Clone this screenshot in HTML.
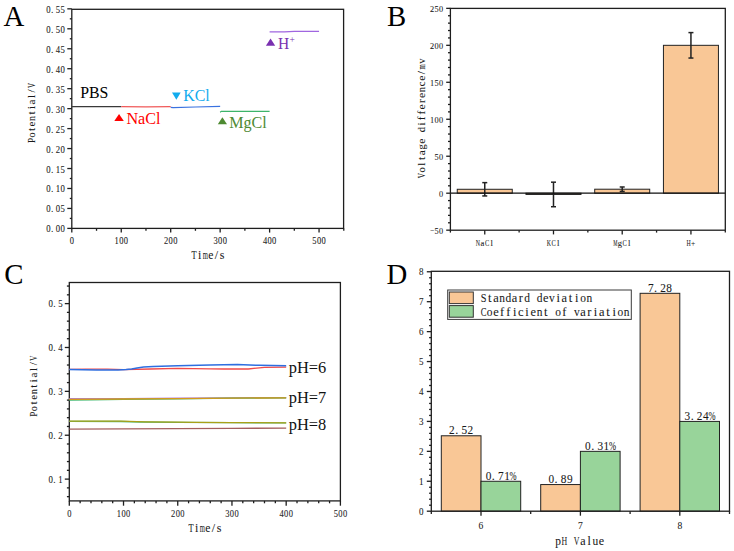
<!DOCTYPE html>
<html><head><meta charset="utf-8"><style>
html,body{margin:0;padding:0;background:#fff;width:734px;height:551px;overflow:hidden}
svg{display:block}
text{font-family:"Liberation Serif",serif}
.m{stroke-width:0.28px}
</style></head><body>
<svg width="734" height="551" viewBox="0 0 734 551">
<rect width="734" height="551" fill="#fff"/>
<text x="3.60" y="25.80" font-size="28.80" fill="#000" font-family="Liberation Serif" text-anchor="start" >A</text>
<line x1="67.30" y1="228.40" x2="71.80" y2="228.40" stroke="#1e1e1e" stroke-width="1.30"/>
<text x="52.08" y="232.40" font-size="9.60" text-anchor="middle" fill="#1a1a1a" stroke="#1a1a1a" stroke-width="0.08" font-family="Liberation Serif" >.</text>
<text transform="translate(48.38,232.40) scale(0.910,1)" font-size="9.60" text-anchor="middle" fill="#1a1a1a" stroke="#1a1a1a" stroke-width="0.08" font-family="Liberation Serif">0</text>
<text transform="translate(57.88,232.40) scale(0.910,1)" font-size="9.60" text-anchor="middle" fill="#1a1a1a" stroke="#1a1a1a" stroke-width="0.08" font-family="Liberation Serif">0</text>
<text transform="translate(62.62,232.40) scale(0.910,1)" font-size="9.60" text-anchor="middle" fill="#1a1a1a" stroke="#1a1a1a" stroke-width="0.08" font-family="Liberation Serif">0</text>
<line x1="67.30" y1="208.44" x2="71.80" y2="208.44" stroke="#1e1e1e" stroke-width="1.30"/>
<text x="52.08" y="212.44" font-size="9.60" text-anchor="middle" fill="#1a1a1a" stroke="#1a1a1a" stroke-width="0.08" font-family="Liberation Serif" >.</text>
<text transform="translate(48.38,212.44) scale(0.910,1)" font-size="9.60" text-anchor="middle" fill="#1a1a1a" stroke="#1a1a1a" stroke-width="0.08" font-family="Liberation Serif">0</text>
<text transform="translate(57.88,212.44) scale(0.910,1)" font-size="9.60" text-anchor="middle" fill="#1a1a1a" stroke="#1a1a1a" stroke-width="0.08" font-family="Liberation Serif">0</text>
<text transform="translate(62.62,212.44) scale(0.910,1)" font-size="9.60" text-anchor="middle" fill="#1a1a1a" stroke="#1a1a1a" stroke-width="0.08" font-family="Liberation Serif">5</text>
<line x1="67.30" y1="188.48" x2="71.80" y2="188.48" stroke="#1e1e1e" stroke-width="1.30"/>
<text x="52.08" y="192.48" font-size="9.60" text-anchor="middle" fill="#1a1a1a" stroke="#1a1a1a" stroke-width="0.08" font-family="Liberation Serif" >.</text>
<text transform="translate(48.38,192.48) scale(0.910,1)" font-size="9.60" text-anchor="middle" fill="#1a1a1a" stroke="#1a1a1a" stroke-width="0.08" font-family="Liberation Serif">0</text>
<text transform="translate(57.88,192.48) scale(0.910,1)" font-size="9.60" text-anchor="middle" fill="#1a1a1a" stroke="#1a1a1a" stroke-width="0.08" font-family="Liberation Serif">1</text>
<text transform="translate(62.62,192.48) scale(0.910,1)" font-size="9.60" text-anchor="middle" fill="#1a1a1a" stroke="#1a1a1a" stroke-width="0.08" font-family="Liberation Serif">0</text>
<line x1="67.30" y1="168.52" x2="71.80" y2="168.52" stroke="#1e1e1e" stroke-width="1.30"/>
<text x="52.08" y="172.52" font-size="9.60" text-anchor="middle" fill="#1a1a1a" stroke="#1a1a1a" stroke-width="0.08" font-family="Liberation Serif" >.</text>
<text transform="translate(48.38,172.52) scale(0.910,1)" font-size="9.60" text-anchor="middle" fill="#1a1a1a" stroke="#1a1a1a" stroke-width="0.08" font-family="Liberation Serif">0</text>
<text transform="translate(57.88,172.52) scale(0.910,1)" font-size="9.60" text-anchor="middle" fill="#1a1a1a" stroke="#1a1a1a" stroke-width="0.08" font-family="Liberation Serif">1</text>
<text transform="translate(62.62,172.52) scale(0.910,1)" font-size="9.60" text-anchor="middle" fill="#1a1a1a" stroke="#1a1a1a" stroke-width="0.08" font-family="Liberation Serif">5</text>
<line x1="67.30" y1="148.56" x2="71.80" y2="148.56" stroke="#1e1e1e" stroke-width="1.30"/>
<text x="52.08" y="152.56" font-size="9.60" text-anchor="middle" fill="#1a1a1a" stroke="#1a1a1a" stroke-width="0.08" font-family="Liberation Serif" >.</text>
<text transform="translate(48.38,152.56) scale(0.910,1)" font-size="9.60" text-anchor="middle" fill="#1a1a1a" stroke="#1a1a1a" stroke-width="0.08" font-family="Liberation Serif">0</text>
<text transform="translate(57.88,152.56) scale(0.910,1)" font-size="9.60" text-anchor="middle" fill="#1a1a1a" stroke="#1a1a1a" stroke-width="0.08" font-family="Liberation Serif">2</text>
<text transform="translate(62.62,152.56) scale(0.910,1)" font-size="9.60" text-anchor="middle" fill="#1a1a1a" stroke="#1a1a1a" stroke-width="0.08" font-family="Liberation Serif">0</text>
<line x1="67.30" y1="128.60" x2="71.80" y2="128.60" stroke="#1e1e1e" stroke-width="1.30"/>
<text x="52.08" y="132.60" font-size="9.60" text-anchor="middle" fill="#1a1a1a" stroke="#1a1a1a" stroke-width="0.08" font-family="Liberation Serif" >.</text>
<text transform="translate(48.38,132.60) scale(0.910,1)" font-size="9.60" text-anchor="middle" fill="#1a1a1a" stroke="#1a1a1a" stroke-width="0.08" font-family="Liberation Serif">0</text>
<text transform="translate(57.88,132.60) scale(0.910,1)" font-size="9.60" text-anchor="middle" fill="#1a1a1a" stroke="#1a1a1a" stroke-width="0.08" font-family="Liberation Serif">2</text>
<text transform="translate(62.62,132.60) scale(0.910,1)" font-size="9.60" text-anchor="middle" fill="#1a1a1a" stroke="#1a1a1a" stroke-width="0.08" font-family="Liberation Serif">5</text>
<line x1="67.30" y1="108.64" x2="71.80" y2="108.64" stroke="#1e1e1e" stroke-width="1.30"/>
<text x="52.08" y="112.64" font-size="9.60" text-anchor="middle" fill="#1a1a1a" stroke="#1a1a1a" stroke-width="0.08" font-family="Liberation Serif" >.</text>
<text transform="translate(48.38,112.64) scale(0.910,1)" font-size="9.60" text-anchor="middle" fill="#1a1a1a" stroke="#1a1a1a" stroke-width="0.08" font-family="Liberation Serif">0</text>
<text transform="translate(57.88,112.64) scale(0.910,1)" font-size="9.60" text-anchor="middle" fill="#1a1a1a" stroke="#1a1a1a" stroke-width="0.08" font-family="Liberation Serif">3</text>
<text transform="translate(62.62,112.64) scale(0.910,1)" font-size="9.60" text-anchor="middle" fill="#1a1a1a" stroke="#1a1a1a" stroke-width="0.08" font-family="Liberation Serif">0</text>
<line x1="67.30" y1="88.68" x2="71.80" y2="88.68" stroke="#1e1e1e" stroke-width="1.30"/>
<text x="52.08" y="92.68" font-size="9.60" text-anchor="middle" fill="#1a1a1a" stroke="#1a1a1a" stroke-width="0.08" font-family="Liberation Serif" >.</text>
<text transform="translate(48.38,92.68) scale(0.910,1)" font-size="9.60" text-anchor="middle" fill="#1a1a1a" stroke="#1a1a1a" stroke-width="0.08" font-family="Liberation Serif">0</text>
<text transform="translate(57.88,92.68) scale(0.910,1)" font-size="9.60" text-anchor="middle" fill="#1a1a1a" stroke="#1a1a1a" stroke-width="0.08" font-family="Liberation Serif">3</text>
<text transform="translate(62.62,92.68) scale(0.910,1)" font-size="9.60" text-anchor="middle" fill="#1a1a1a" stroke="#1a1a1a" stroke-width="0.08" font-family="Liberation Serif">5</text>
<line x1="67.30" y1="68.72" x2="71.80" y2="68.72" stroke="#1e1e1e" stroke-width="1.30"/>
<text x="52.08" y="72.72" font-size="9.60" text-anchor="middle" fill="#1a1a1a" stroke="#1a1a1a" stroke-width="0.08" font-family="Liberation Serif" >.</text>
<text transform="translate(48.38,72.72) scale(0.910,1)" font-size="9.60" text-anchor="middle" fill="#1a1a1a" stroke="#1a1a1a" stroke-width="0.08" font-family="Liberation Serif">0</text>
<text transform="translate(57.88,72.72) scale(0.910,1)" font-size="9.60" text-anchor="middle" fill="#1a1a1a" stroke="#1a1a1a" stroke-width="0.08" font-family="Liberation Serif">4</text>
<text transform="translate(62.62,72.72) scale(0.910,1)" font-size="9.60" text-anchor="middle" fill="#1a1a1a" stroke="#1a1a1a" stroke-width="0.08" font-family="Liberation Serif">0</text>
<line x1="67.30" y1="48.76" x2="71.80" y2="48.76" stroke="#1e1e1e" stroke-width="1.30"/>
<text x="52.08" y="52.76" font-size="9.60" text-anchor="middle" fill="#1a1a1a" stroke="#1a1a1a" stroke-width="0.08" font-family="Liberation Serif" >.</text>
<text transform="translate(48.38,52.76) scale(0.910,1)" font-size="9.60" text-anchor="middle" fill="#1a1a1a" stroke="#1a1a1a" stroke-width="0.08" font-family="Liberation Serif">0</text>
<text transform="translate(57.88,52.76) scale(0.910,1)" font-size="9.60" text-anchor="middle" fill="#1a1a1a" stroke="#1a1a1a" stroke-width="0.08" font-family="Liberation Serif">4</text>
<text transform="translate(62.62,52.76) scale(0.910,1)" font-size="9.60" text-anchor="middle" fill="#1a1a1a" stroke="#1a1a1a" stroke-width="0.08" font-family="Liberation Serif">5</text>
<line x1="67.30" y1="28.80" x2="71.80" y2="28.80" stroke="#1e1e1e" stroke-width="1.30"/>
<text x="52.08" y="32.80" font-size="9.60" text-anchor="middle" fill="#1a1a1a" stroke="#1a1a1a" stroke-width="0.08" font-family="Liberation Serif" >.</text>
<text transform="translate(48.38,32.80) scale(0.910,1)" font-size="9.60" text-anchor="middle" fill="#1a1a1a" stroke="#1a1a1a" stroke-width="0.08" font-family="Liberation Serif">0</text>
<text transform="translate(57.88,32.80) scale(0.910,1)" font-size="9.60" text-anchor="middle" fill="#1a1a1a" stroke="#1a1a1a" stroke-width="0.08" font-family="Liberation Serif">5</text>
<text transform="translate(62.62,32.80) scale(0.910,1)" font-size="9.60" text-anchor="middle" fill="#1a1a1a" stroke="#1a1a1a" stroke-width="0.08" font-family="Liberation Serif">0</text>
<line x1="67.30" y1="8.84" x2="71.80" y2="8.84" stroke="#1e1e1e" stroke-width="1.30"/>
<text x="52.08" y="12.84" font-size="9.60" text-anchor="middle" fill="#1a1a1a" stroke="#1a1a1a" stroke-width="0.08" font-family="Liberation Serif" >.</text>
<text transform="translate(48.38,12.84) scale(0.910,1)" font-size="9.60" text-anchor="middle" fill="#1a1a1a" stroke="#1a1a1a" stroke-width="0.08" font-family="Liberation Serif">0</text>
<text transform="translate(57.88,12.84) scale(0.910,1)" font-size="9.60" text-anchor="middle" fill="#1a1a1a" stroke="#1a1a1a" stroke-width="0.08" font-family="Liberation Serif">5</text>
<text transform="translate(62.62,12.84) scale(0.910,1)" font-size="9.60" text-anchor="middle" fill="#1a1a1a" stroke="#1a1a1a" stroke-width="0.08" font-family="Liberation Serif">5</text>
<line x1="69.80" y1="218.42" x2="71.80" y2="218.42" stroke="#1e1e1e" stroke-width="1.30"/>
<line x1="69.80" y1="198.46" x2="71.80" y2="198.46" stroke="#1e1e1e" stroke-width="1.30"/>
<line x1="69.80" y1="178.50" x2="71.80" y2="178.50" stroke="#1e1e1e" stroke-width="1.30"/>
<line x1="69.80" y1="158.54" x2="71.80" y2="158.54" stroke="#1e1e1e" stroke-width="1.30"/>
<line x1="69.80" y1="138.58" x2="71.80" y2="138.58" stroke="#1e1e1e" stroke-width="1.30"/>
<line x1="69.80" y1="118.62" x2="71.80" y2="118.62" stroke="#1e1e1e" stroke-width="1.30"/>
<line x1="69.80" y1="98.66" x2="71.80" y2="98.66" stroke="#1e1e1e" stroke-width="1.30"/>
<line x1="69.80" y1="78.70" x2="71.80" y2="78.70" stroke="#1e1e1e" stroke-width="1.30"/>
<line x1="69.80" y1="58.74" x2="71.80" y2="58.74" stroke="#1e1e1e" stroke-width="1.30"/>
<line x1="69.80" y1="38.78" x2="71.80" y2="38.78" stroke="#1e1e1e" stroke-width="1.30"/>
<line x1="69.80" y1="18.82" x2="71.80" y2="18.82" stroke="#1e1e1e" stroke-width="1.30"/>
<line x1="71.80" y1="228.40" x2="71.80" y2="232.60" stroke="#1e1e1e" stroke-width="1.30"/>
<text transform="translate(71.80,244.00) scale(0.882,1)" font-size="9.60" text-anchor="middle" fill="#1a1a1a" stroke="#1a1a1a" stroke-width="0.08" font-family="Liberation Serif">0</text>
<line x1="121.25" y1="228.40" x2="121.25" y2="232.60" stroke="#1e1e1e" stroke-width="1.30"/>
<text transform="translate(116.65,244.00) scale(0.882,1)" font-size="9.60" text-anchor="middle" fill="#1a1a1a" stroke="#1a1a1a" stroke-width="0.08" font-family="Liberation Serif">1</text>
<text transform="translate(121.25,244.00) scale(0.882,1)" font-size="9.60" text-anchor="middle" fill="#1a1a1a" stroke="#1a1a1a" stroke-width="0.08" font-family="Liberation Serif">0</text>
<text transform="translate(125.85,244.00) scale(0.882,1)" font-size="9.60" text-anchor="middle" fill="#1a1a1a" stroke="#1a1a1a" stroke-width="0.08" font-family="Liberation Serif">0</text>
<line x1="170.70" y1="228.40" x2="170.70" y2="232.60" stroke="#1e1e1e" stroke-width="1.30"/>
<text transform="translate(166.10,244.00) scale(0.882,1)" font-size="9.60" text-anchor="middle" fill="#1a1a1a" stroke="#1a1a1a" stroke-width="0.08" font-family="Liberation Serif">2</text>
<text transform="translate(170.70,244.00) scale(0.882,1)" font-size="9.60" text-anchor="middle" fill="#1a1a1a" stroke="#1a1a1a" stroke-width="0.08" font-family="Liberation Serif">0</text>
<text transform="translate(175.30,244.00) scale(0.882,1)" font-size="9.60" text-anchor="middle" fill="#1a1a1a" stroke="#1a1a1a" stroke-width="0.08" font-family="Liberation Serif">0</text>
<line x1="220.15" y1="228.40" x2="220.15" y2="232.60" stroke="#1e1e1e" stroke-width="1.30"/>
<text transform="translate(215.55,244.00) scale(0.882,1)" font-size="9.60" text-anchor="middle" fill="#1a1a1a" stroke="#1a1a1a" stroke-width="0.08" font-family="Liberation Serif">3</text>
<text transform="translate(220.15,244.00) scale(0.882,1)" font-size="9.60" text-anchor="middle" fill="#1a1a1a" stroke="#1a1a1a" stroke-width="0.08" font-family="Liberation Serif">0</text>
<text transform="translate(224.75,244.00) scale(0.882,1)" font-size="9.60" text-anchor="middle" fill="#1a1a1a" stroke="#1a1a1a" stroke-width="0.08" font-family="Liberation Serif">0</text>
<line x1="269.60" y1="228.40" x2="269.60" y2="232.60" stroke="#1e1e1e" stroke-width="1.30"/>
<text transform="translate(265.00,244.00) scale(0.882,1)" font-size="9.60" text-anchor="middle" fill="#1a1a1a" stroke="#1a1a1a" stroke-width="0.08" font-family="Liberation Serif">4</text>
<text transform="translate(269.60,244.00) scale(0.882,1)" font-size="9.60" text-anchor="middle" fill="#1a1a1a" stroke="#1a1a1a" stroke-width="0.08" font-family="Liberation Serif">0</text>
<text transform="translate(274.20,244.00) scale(0.882,1)" font-size="9.60" text-anchor="middle" fill="#1a1a1a" stroke="#1a1a1a" stroke-width="0.08" font-family="Liberation Serif">0</text>
<line x1="319.05" y1="228.40" x2="319.05" y2="232.60" stroke="#1e1e1e" stroke-width="1.30"/>
<text transform="translate(314.45,244.00) scale(0.882,1)" font-size="9.60" text-anchor="middle" fill="#1a1a1a" stroke="#1a1a1a" stroke-width="0.08" font-family="Liberation Serif">5</text>
<text transform="translate(319.05,244.00) scale(0.882,1)" font-size="9.60" text-anchor="middle" fill="#1a1a1a" stroke="#1a1a1a" stroke-width="0.08" font-family="Liberation Serif">0</text>
<text transform="translate(323.65,244.00) scale(0.882,1)" font-size="9.60" text-anchor="middle" fill="#1a1a1a" stroke="#1a1a1a" stroke-width="0.08" font-family="Liberation Serif">0</text>
<line x1="96.53" y1="228.40" x2="96.53" y2="230.80" stroke="#1e1e1e" stroke-width="1.30"/>
<line x1="145.97" y1="228.40" x2="145.97" y2="230.80" stroke="#1e1e1e" stroke-width="1.30"/>
<line x1="195.43" y1="228.40" x2="195.43" y2="230.80" stroke="#1e1e1e" stroke-width="1.30"/>
<line x1="244.88" y1="228.40" x2="244.88" y2="230.80" stroke="#1e1e1e" stroke-width="1.30"/>
<line x1="294.32" y1="228.40" x2="294.32" y2="230.80" stroke="#1e1e1e" stroke-width="1.30"/>
<line x1="343.78" y1="228.40" x2="343.78" y2="230.80" stroke="#1e1e1e" stroke-width="1.30"/>
<rect x="71.80" y="9.30" width="271.80" height="219.10" fill="none" stroke="#1e1e1e" stroke-width="1.30"/>
<g transform="translate(34.60,113.00) rotate(-90)">
<text x="-16.50 -11.00 0.00 5.50 11.00 16.50 22.00" y="0.00" font-size="11.00" text-anchor="middle" fill="#1a1a1a" stroke="#1a1a1a" stroke-width="0.08" font-family="Liberation Serif" >tetial/</text>
<text transform="translate(-27.50,0.00) scale(0.827,1)" font-size="11.00" text-anchor="middle" fill="#1a1a1a" stroke="#1a1a1a" stroke-width="0.08" font-family="Liberation Serif">P</text>
<text transform="translate(-22.00,0.00) scale(0.920,1)" font-size="11.00" text-anchor="middle" fill="#1a1a1a" stroke="#1a1a1a" stroke-width="0.08" font-family="Liberation Serif">o</text>
<text transform="translate(-5.50,0.00) scale(0.920,1)" font-size="11.00" text-anchor="middle" fill="#1a1a1a" stroke="#1a1a1a" stroke-width="0.08" font-family="Liberation Serif">n</text>
<text transform="translate(27.50,0.00) scale(0.637,1)" font-size="11.00" text-anchor="middle" fill="#1a1a1a" stroke="#1a1a1a" stroke-width="0.08" font-family="Liberation Serif">V</text>
</g>
<text x="199.63 216.49 222.11" y="258.80" font-size="12.00" text-anchor="middle" fill="#1a1a1a" stroke="#1a1a1a" stroke-width="0.08" font-family="Liberation Serif" >i/s</text>
<text transform="translate(194.01,258.80) scale(0.705,1)" font-size="12.00" text-anchor="middle" fill="#1a1a1a" stroke="#1a1a1a" stroke-width="0.08" font-family="Liberation Serif">T</text>
<text transform="translate(205.25,258.80) scale(0.554,1)" font-size="12.00" text-anchor="middle" fill="#1a1a1a" stroke="#1a1a1a" stroke-width="0.08" font-family="Liberation Serif">m</text>
<text transform="translate(210.87,258.80) scale(0.971,1)" font-size="12.00" text-anchor="middle" fill="#1a1a1a" stroke="#1a1a1a" stroke-width="0.08" font-family="Liberation Serif">e</text>
<polyline points="71.80,106.60 121.25,106.70" fill="none" stroke="#3a3a3a" stroke-width="1.20" stroke-linejoin="round"/>
<polyline points="121.25,106.60 145.97,106.90 170.70,106.70" fill="none" stroke="#f05a5a" stroke-width="1.20" stroke-linejoin="round"/>
<polyline points="170.70,107.30 173.17,107.70 195.43,107.00 220.15,106.30" fill="none" stroke="#3a72e0" stroke-width="1.20" stroke-linejoin="round"/>
<polyline points="220.15,112.30 221.14,111.30 269.60,111.30" fill="none" stroke="#3cb46a" stroke-width="1.20" stroke-linejoin="round"/>
<polyline points="269.60,31.90 284.44,31.90 294.32,31.40 319.05,31.30" fill="none" stroke="#a066e0" stroke-width="1.20" stroke-linejoin="round"/>
<text x="80.20" y="98.20" font-size="16.40" fill="#000" font-family="Liberation Serif" text-anchor="start" textLength="28.2" lengthAdjust="spacingAndGlyphs">PBS</text>
<polygon points="119.05,114.00 123.80,120.90 114.30,120.90" fill="#ff0000"/>
<text x="126.40" y="124.40" font-size="16.40" fill="#ff0000" font-family="Liberation Serif" text-anchor="start" textLength="34.2" lengthAdjust="spacingAndGlyphs">NaCl</text>
<polygon points="172.00,92.50 180.70,92.50 176.35,99.80" fill="#12acee"/>
<text x="183.20" y="100.50" font-size="16.40" fill="#12acee" font-family="Liberation Serif" text-anchor="start" textLength="26.6" lengthAdjust="spacingAndGlyphs">KCl</text>
<polygon points="222.40,117.20 227.00,124.30 217.80,124.30" fill="#4e8a32"/>
<text x="229.20" y="127.50" font-size="16.40" fill="#4e8a32" font-family="Liberation Serif" text-anchor="start" textLength="37.6" lengthAdjust="spacingAndGlyphs">MgCl</text>
<polygon points="270.55,38.40 275.20,45.70 265.90,45.70" fill="#7a30b0"/>
<text x="278.00" y="48.50" font-size="16.40" fill="#7a30b0" font-family="Liberation Serif" text-anchor="start" textLength="11.2" lengthAdjust="spacingAndGlyphs">H</text>
<text x="289.60" y="43.40" font-size="9.50" fill="#7a30b0" font-family="Liberation Serif" text-anchor="start" >+</text>
<text x="386.90" y="25.90" font-size="28.80" fill="#000" font-family="Liberation Serif" text-anchor="start" >B</text>
<line x1="446.20" y1="230.17" x2="450.40" y2="230.17" stroke="#1e1e1e" stroke-width="1.30"/>
<text transform="translate(431.95,234.27) scale(0.798,1)" font-size="9.20" text-anchor="middle" fill="#1a1a1a" stroke="#1a1a1a" stroke-width="0.08" font-family="Liberation Serif">−</text>
<text transform="translate(436.45,234.27) scale(0.900,1)" font-size="9.20" text-anchor="middle" fill="#1a1a1a" stroke="#1a1a1a" stroke-width="0.08" font-family="Liberation Serif">5</text>
<text transform="translate(440.95,234.27) scale(0.900,1)" font-size="9.20" text-anchor="middle" fill="#1a1a1a" stroke="#1a1a1a" stroke-width="0.08" font-family="Liberation Serif">0</text>
<line x1="448.00" y1="222.78" x2="450.40" y2="222.78" stroke="#1e1e1e" stroke-width="1.30"/>
<line x1="448.00" y1="215.38" x2="450.40" y2="215.38" stroke="#1e1e1e" stroke-width="1.30"/>
<line x1="448.00" y1="207.99" x2="450.40" y2="207.99" stroke="#1e1e1e" stroke-width="1.30"/>
<line x1="448.00" y1="200.59" x2="450.40" y2="200.59" stroke="#1e1e1e" stroke-width="1.30"/>
<line x1="446.20" y1="193.20" x2="450.40" y2="193.20" stroke="#1e1e1e" stroke-width="1.30"/>
<text transform="translate(440.95,197.30) scale(0.900,1)" font-size="9.20" text-anchor="middle" fill="#1a1a1a" stroke="#1a1a1a" stroke-width="0.08" font-family="Liberation Serif">0</text>
<line x1="448.00" y1="185.81" x2="450.40" y2="185.81" stroke="#1e1e1e" stroke-width="1.30"/>
<line x1="448.00" y1="178.41" x2="450.40" y2="178.41" stroke="#1e1e1e" stroke-width="1.30"/>
<line x1="448.00" y1="171.02" x2="450.40" y2="171.02" stroke="#1e1e1e" stroke-width="1.30"/>
<line x1="448.00" y1="163.62" x2="450.40" y2="163.62" stroke="#1e1e1e" stroke-width="1.30"/>
<line x1="446.20" y1="156.23" x2="450.40" y2="156.23" stroke="#1e1e1e" stroke-width="1.30"/>
<text transform="translate(436.45,160.33) scale(0.900,1)" font-size="9.20" text-anchor="middle" fill="#1a1a1a" stroke="#1a1a1a" stroke-width="0.08" font-family="Liberation Serif">5</text>
<text transform="translate(440.95,160.33) scale(0.900,1)" font-size="9.20" text-anchor="middle" fill="#1a1a1a" stroke="#1a1a1a" stroke-width="0.08" font-family="Liberation Serif">0</text>
<line x1="448.00" y1="148.84" x2="450.40" y2="148.84" stroke="#1e1e1e" stroke-width="1.30"/>
<line x1="448.00" y1="141.44" x2="450.40" y2="141.44" stroke="#1e1e1e" stroke-width="1.30"/>
<line x1="448.00" y1="134.05" x2="450.40" y2="134.05" stroke="#1e1e1e" stroke-width="1.30"/>
<line x1="448.00" y1="126.65" x2="450.40" y2="126.65" stroke="#1e1e1e" stroke-width="1.30"/>
<line x1="446.20" y1="119.26" x2="450.40" y2="119.26" stroke="#1e1e1e" stroke-width="1.30"/>
<text transform="translate(431.95,123.36) scale(0.900,1)" font-size="9.20" text-anchor="middle" fill="#1a1a1a" stroke="#1a1a1a" stroke-width="0.08" font-family="Liberation Serif">1</text>
<text transform="translate(436.45,123.36) scale(0.900,1)" font-size="9.20" text-anchor="middle" fill="#1a1a1a" stroke="#1a1a1a" stroke-width="0.08" font-family="Liberation Serif">0</text>
<text transform="translate(440.95,123.36) scale(0.900,1)" font-size="9.20" text-anchor="middle" fill="#1a1a1a" stroke="#1a1a1a" stroke-width="0.08" font-family="Liberation Serif">0</text>
<line x1="448.00" y1="111.87" x2="450.40" y2="111.87" stroke="#1e1e1e" stroke-width="1.30"/>
<line x1="448.00" y1="104.47" x2="450.40" y2="104.47" stroke="#1e1e1e" stroke-width="1.30"/>
<line x1="448.00" y1="97.08" x2="450.40" y2="97.08" stroke="#1e1e1e" stroke-width="1.30"/>
<line x1="448.00" y1="89.68" x2="450.40" y2="89.68" stroke="#1e1e1e" stroke-width="1.30"/>
<line x1="446.20" y1="82.29" x2="450.40" y2="82.29" stroke="#1e1e1e" stroke-width="1.30"/>
<text transform="translate(431.95,86.39) scale(0.900,1)" font-size="9.20" text-anchor="middle" fill="#1a1a1a" stroke="#1a1a1a" stroke-width="0.08" font-family="Liberation Serif">1</text>
<text transform="translate(436.45,86.39) scale(0.900,1)" font-size="9.20" text-anchor="middle" fill="#1a1a1a" stroke="#1a1a1a" stroke-width="0.08" font-family="Liberation Serif">5</text>
<text transform="translate(440.95,86.39) scale(0.900,1)" font-size="9.20" text-anchor="middle" fill="#1a1a1a" stroke="#1a1a1a" stroke-width="0.08" font-family="Liberation Serif">0</text>
<line x1="448.00" y1="74.90" x2="450.40" y2="74.90" stroke="#1e1e1e" stroke-width="1.30"/>
<line x1="448.00" y1="67.50" x2="450.40" y2="67.50" stroke="#1e1e1e" stroke-width="1.30"/>
<line x1="448.00" y1="60.11" x2="450.40" y2="60.11" stroke="#1e1e1e" stroke-width="1.30"/>
<line x1="448.00" y1="52.71" x2="450.40" y2="52.71" stroke="#1e1e1e" stroke-width="1.30"/>
<line x1="446.20" y1="45.32" x2="450.40" y2="45.32" stroke="#1e1e1e" stroke-width="1.30"/>
<text transform="translate(431.95,49.42) scale(0.900,1)" font-size="9.20" text-anchor="middle" fill="#1a1a1a" stroke="#1a1a1a" stroke-width="0.08" font-family="Liberation Serif">2</text>
<text transform="translate(436.45,49.42) scale(0.900,1)" font-size="9.20" text-anchor="middle" fill="#1a1a1a" stroke="#1a1a1a" stroke-width="0.08" font-family="Liberation Serif">0</text>
<text transform="translate(440.95,49.42) scale(0.900,1)" font-size="9.20" text-anchor="middle" fill="#1a1a1a" stroke="#1a1a1a" stroke-width="0.08" font-family="Liberation Serif">0</text>
<line x1="448.00" y1="37.93" x2="450.40" y2="37.93" stroke="#1e1e1e" stroke-width="1.30"/>
<line x1="448.00" y1="30.53" x2="450.40" y2="30.53" stroke="#1e1e1e" stroke-width="1.30"/>
<line x1="448.00" y1="23.14" x2="450.40" y2="23.14" stroke="#1e1e1e" stroke-width="1.30"/>
<line x1="448.00" y1="15.74" x2="450.40" y2="15.74" stroke="#1e1e1e" stroke-width="1.30"/>
<line x1="446.20" y1="8.35" x2="450.40" y2="8.35" stroke="#1e1e1e" stroke-width="1.30"/>
<text transform="translate(431.95,12.45) scale(0.900,1)" font-size="9.20" text-anchor="middle" fill="#1a1a1a" stroke="#1a1a1a" stroke-width="0.08" font-family="Liberation Serif">2</text>
<text transform="translate(436.45,12.45) scale(0.900,1)" font-size="9.20" text-anchor="middle" fill="#1a1a1a" stroke="#1a1a1a" stroke-width="0.08" font-family="Liberation Serif">5</text>
<text transform="translate(440.95,12.45) scale(0.900,1)" font-size="9.20" text-anchor="middle" fill="#1a1a1a" stroke="#1a1a1a" stroke-width="0.08" font-family="Liberation Serif">0</text>
<line x1="484.76" y1="230.20" x2="484.76" y2="234.40" stroke="#1e1e1e" stroke-width="1.30"/>
<line x1="519.12" y1="230.20" x2="519.12" y2="232.60" stroke="#1e1e1e" stroke-width="1.30"/>
<line x1="450.40" y1="230.20" x2="450.40" y2="232.60" stroke="#1e1e1e" stroke-width="1.30"/>
<text x="482.46 491.66" y="246.00" font-size="8.60" text-anchor="middle" fill="#1a1a1a" stroke="#1a1a1a" stroke-width="0.08" font-family="Liberation Serif" >al</text>
<text transform="translate(477.86,246.00) scale(0.681,1)" font-size="8.60" text-anchor="middle" fill="#1a1a1a" stroke="#1a1a1a" stroke-width="0.08" font-family="Liberation Serif">N</text>
<text transform="translate(487.06,246.00) scale(0.738,1)" font-size="8.60" text-anchor="middle" fill="#1a1a1a" stroke="#1a1a1a" stroke-width="0.08" font-family="Liberation Serif">C</text>
<rect x="457.26" y="189.28" width="55.00" height="3.92" fill="#f9c796" stroke="#222" stroke-width="1.00"/>
<line x1="553.49" y1="230.20" x2="553.49" y2="234.40" stroke="#1e1e1e" stroke-width="1.30"/>
<line x1="587.85" y1="230.20" x2="587.85" y2="232.60" stroke="#1e1e1e" stroke-width="1.30"/>
<text x="558.09" y="246.00" font-size="8.60" text-anchor="middle" fill="#1a1a1a" stroke="#1a1a1a" stroke-width="0.08" font-family="Liberation Serif" >l</text>
<text transform="translate(548.89,246.00) scale(0.681,1)" font-size="8.60" text-anchor="middle" fill="#1a1a1a" stroke="#1a1a1a" stroke-width="0.08" font-family="Liberation Serif">K</text>
<text transform="translate(553.49,246.00) scale(0.738,1)" font-size="8.60" text-anchor="middle" fill="#1a1a1a" stroke="#1a1a1a" stroke-width="0.08" font-family="Liberation Serif">C</text>
<rect x="525.99" y="193.20" width="55.00" height="1.26" fill="#f9c796" stroke="#222" stroke-width="1.00"/>
<line x1="622.21" y1="230.20" x2="622.21" y2="234.40" stroke="#1e1e1e" stroke-width="1.30"/>
<line x1="656.57" y1="230.20" x2="656.57" y2="232.60" stroke="#1e1e1e" stroke-width="1.30"/>
<text x="629.11" y="246.00" font-size="8.60" text-anchor="middle" fill="#1a1a1a" stroke="#1a1a1a" stroke-width="0.08" font-family="Liberation Serif" >l</text>
<text transform="translate(615.31,246.00) scale(0.553,1)" font-size="8.60" text-anchor="middle" fill="#1a1a1a" stroke="#1a1a1a" stroke-width="0.08" font-family="Liberation Serif">M</text>
<text transform="translate(619.91,246.00) scale(0.984,1)" font-size="8.60" text-anchor="middle" fill="#1a1a1a" stroke="#1a1a1a" stroke-width="0.08" font-family="Liberation Serif">g</text>
<text transform="translate(624.51,246.00) scale(0.738,1)" font-size="8.60" text-anchor="middle" fill="#1a1a1a" stroke="#1a1a1a" stroke-width="0.08" font-family="Liberation Serif">C</text>
<rect x="594.71" y="189.21" width="55.00" height="3.99" fill="#f9c796" stroke="#222" stroke-width="1.00"/>
<line x1="690.94" y1="230.20" x2="690.94" y2="234.40" stroke="#1e1e1e" stroke-width="1.30"/>
<line x1="725.30" y1="230.20" x2="725.30" y2="232.60" stroke="#1e1e1e" stroke-width="1.30"/>
<text transform="translate(688.64,246.00) scale(0.681,1)" font-size="8.60" text-anchor="middle" fill="#1a1a1a" stroke="#1a1a1a" stroke-width="0.08" font-family="Liberation Serif">H</text>
<text transform="translate(693.24,246.00) scale(0.873,1)" font-size="8.60" text-anchor="middle" fill="#1a1a1a" stroke="#1a1a1a" stroke-width="0.08" font-family="Liberation Serif">+</text>
<rect x="663.44" y="45.32" width="55.00" height="147.88" fill="#f9c796" stroke="#222" stroke-width="1.00"/>
<line x1="484.76" y1="182.63" x2="484.76" y2="195.94" stroke="#222" stroke-width="1.50"/>
<line x1="482.26" y1="182.63" x2="487.26" y2="182.63" stroke="#222" stroke-width="1.50"/>
<line x1="482.26" y1="195.94" x2="487.26" y2="195.94" stroke="#222" stroke-width="1.50"/>
<line x1="553.49" y1="182.18" x2="553.49" y2="206.73" stroke="#222" stroke-width="1.50"/>
<line x1="550.99" y1="182.18" x2="555.99" y2="182.18" stroke="#222" stroke-width="1.50"/>
<line x1="550.99" y1="206.73" x2="555.99" y2="206.73" stroke="#222" stroke-width="1.50"/>
<line x1="622.21" y1="186.99" x2="622.21" y2="191.43" stroke="#222" stroke-width="1.50"/>
<line x1="619.71" y1="186.99" x2="624.71" y2="186.99" stroke="#222" stroke-width="1.50"/>
<line x1="619.71" y1="191.43" x2="624.71" y2="191.43" stroke="#222" stroke-width="1.50"/>
<line x1="690.94" y1="32.60" x2="690.94" y2="58.04" stroke="#222" stroke-width="1.50"/>
<line x1="688.44" y1="32.60" x2="693.44" y2="32.60" stroke="#222" stroke-width="1.50"/>
<line x1="688.44" y1="58.04" x2="693.44" y2="58.04" stroke="#222" stroke-width="1.50"/>
<line x1="450.40" y1="193.20" x2="725.30" y2="193.20" stroke="#111" stroke-width="1.20"/>
<rect x="450.40" y="8.40" width="274.90" height="221.80" fill="none" stroke="#1e1e1e" stroke-width="1.30"/>
<g transform="translate(425.40,118.30) rotate(-90)">
<text x="-45.76 -40.04 -34.32 -22.88 -5.72 0.00 5.72 11.44 17.16 22.88 34.32 40.04 45.76" y="0.00" font-size="11.40" text-anchor="middle" fill="#1a1a1a" stroke="#1a1a1a" stroke-width="0.08" font-family="Liberation Serif" >ltaeifferece/</text>
<text transform="translate(-57.20,0.00) scale(0.639,1)" font-size="11.40" text-anchor="middle" fill="#1a1a1a" stroke="#1a1a1a" stroke-width="0.08" font-family="Liberation Serif">V</text>
<text transform="translate(-51.48,0.00) scale(0.923,1)" font-size="11.40" text-anchor="middle" fill="#1a1a1a" stroke="#1a1a1a" stroke-width="0.08" font-family="Liberation Serif">o</text>
<text transform="translate(-28.60,0.00) scale(0.923,1)" font-size="11.40" text-anchor="middle" fill="#1a1a1a" stroke="#1a1a1a" stroke-width="0.08" font-family="Liberation Serif">g</text>
<text transform="translate(-11.44,0.00) scale(0.923,1)" font-size="11.40" text-anchor="middle" fill="#1a1a1a" stroke="#1a1a1a" stroke-width="0.08" font-family="Liberation Serif">d</text>
<text transform="translate(28.60,0.00) scale(0.923,1)" font-size="11.40" text-anchor="middle" fill="#1a1a1a" stroke="#1a1a1a" stroke-width="0.08" font-family="Liberation Serif">n</text>
<text transform="translate(51.48,0.00) scale(0.593,1)" font-size="11.40" text-anchor="middle" fill="#1a1a1a" stroke="#1a1a1a" stroke-width="0.08" font-family="Liberation Serif">m</text>
<text transform="translate(57.20,0.00) scale(0.923,1)" font-size="11.40" text-anchor="middle" fill="#1a1a1a" stroke="#1a1a1a" stroke-width="0.08" font-family="Liberation Serif">v</text>
</g>
<text x="4.20" y="284.30" font-size="28.80" fill="#000" font-family="Liberation Serif" text-anchor="start" >C</text>
<line x1="66.90" y1="496.66" x2="69.30" y2="496.66" stroke="#1e1e1e" stroke-width="1.30"/>
<line x1="66.90" y1="487.88" x2="69.30" y2="487.88" stroke="#1e1e1e" stroke-width="1.30"/>
<line x1="64.80" y1="479.11" x2="69.30" y2="479.11" stroke="#1e1e1e" stroke-width="1.30"/>
<text x="54.54" y="482.71" font-size="9.60" text-anchor="middle" fill="#1a1a1a" stroke="#1a1a1a" stroke-width="0.08" font-family="Liberation Serif" >.</text>
<text transform="translate(50.80,482.71) scale(0.920,1)" font-size="9.60" text-anchor="middle" fill="#1a1a1a" stroke="#1a1a1a" stroke-width="0.08" font-family="Liberation Serif">0</text>
<text transform="translate(60.40,482.71) scale(0.920,1)" font-size="9.60" text-anchor="middle" fill="#1a1a1a" stroke="#1a1a1a" stroke-width="0.08" font-family="Liberation Serif">1</text>
<line x1="66.90" y1="470.33" x2="69.30" y2="470.33" stroke="#1e1e1e" stroke-width="1.30"/>
<line x1="66.90" y1="461.56" x2="69.30" y2="461.56" stroke="#1e1e1e" stroke-width="1.30"/>
<line x1="66.90" y1="452.78" x2="69.30" y2="452.78" stroke="#1e1e1e" stroke-width="1.30"/>
<line x1="66.90" y1="444.00" x2="69.30" y2="444.00" stroke="#1e1e1e" stroke-width="1.30"/>
<line x1="64.80" y1="435.23" x2="69.30" y2="435.23" stroke="#1e1e1e" stroke-width="1.30"/>
<text x="54.54" y="438.83" font-size="9.60" text-anchor="middle" fill="#1a1a1a" stroke="#1a1a1a" stroke-width="0.08" font-family="Liberation Serif" >.</text>
<text transform="translate(50.80,438.83) scale(0.920,1)" font-size="9.60" text-anchor="middle" fill="#1a1a1a" stroke="#1a1a1a" stroke-width="0.08" font-family="Liberation Serif">0</text>
<text transform="translate(60.40,438.83) scale(0.920,1)" font-size="9.60" text-anchor="middle" fill="#1a1a1a" stroke="#1a1a1a" stroke-width="0.08" font-family="Liberation Serif">2</text>
<line x1="66.90" y1="426.46" x2="69.30" y2="426.46" stroke="#1e1e1e" stroke-width="1.30"/>
<line x1="66.90" y1="417.68" x2="69.30" y2="417.68" stroke="#1e1e1e" stroke-width="1.30"/>
<line x1="66.90" y1="408.91" x2="69.30" y2="408.91" stroke="#1e1e1e" stroke-width="1.30"/>
<line x1="66.90" y1="400.13" x2="69.30" y2="400.13" stroke="#1e1e1e" stroke-width="1.30"/>
<line x1="64.80" y1="391.36" x2="69.30" y2="391.36" stroke="#1e1e1e" stroke-width="1.30"/>
<text x="54.54" y="394.96" font-size="9.60" text-anchor="middle" fill="#1a1a1a" stroke="#1a1a1a" stroke-width="0.08" font-family="Liberation Serif" >.</text>
<text transform="translate(50.80,394.96) scale(0.920,1)" font-size="9.60" text-anchor="middle" fill="#1a1a1a" stroke="#1a1a1a" stroke-width="0.08" font-family="Liberation Serif">0</text>
<text transform="translate(60.40,394.96) scale(0.920,1)" font-size="9.60" text-anchor="middle" fill="#1a1a1a" stroke="#1a1a1a" stroke-width="0.08" font-family="Liberation Serif">3</text>
<line x1="66.90" y1="382.58" x2="69.30" y2="382.58" stroke="#1e1e1e" stroke-width="1.30"/>
<line x1="66.90" y1="373.81" x2="69.30" y2="373.81" stroke="#1e1e1e" stroke-width="1.30"/>
<line x1="66.90" y1="365.03" x2="69.30" y2="365.03" stroke="#1e1e1e" stroke-width="1.30"/>
<line x1="66.90" y1="356.25" x2="69.30" y2="356.25" stroke="#1e1e1e" stroke-width="1.30"/>
<line x1="64.80" y1="347.48" x2="69.30" y2="347.48" stroke="#1e1e1e" stroke-width="1.30"/>
<text x="54.54" y="351.08" font-size="9.60" text-anchor="middle" fill="#1a1a1a" stroke="#1a1a1a" stroke-width="0.08" font-family="Liberation Serif" >.</text>
<text transform="translate(50.80,351.08) scale(0.920,1)" font-size="9.60" text-anchor="middle" fill="#1a1a1a" stroke="#1a1a1a" stroke-width="0.08" font-family="Liberation Serif">0</text>
<text transform="translate(60.40,351.08) scale(0.920,1)" font-size="9.60" text-anchor="middle" fill="#1a1a1a" stroke="#1a1a1a" stroke-width="0.08" font-family="Liberation Serif">4</text>
<line x1="66.90" y1="338.71" x2="69.30" y2="338.71" stroke="#1e1e1e" stroke-width="1.30"/>
<line x1="66.90" y1="329.93" x2="69.30" y2="329.93" stroke="#1e1e1e" stroke-width="1.30"/>
<line x1="66.90" y1="321.15" x2="69.30" y2="321.15" stroke="#1e1e1e" stroke-width="1.30"/>
<line x1="66.90" y1="312.38" x2="69.30" y2="312.38" stroke="#1e1e1e" stroke-width="1.30"/>
<line x1="64.80" y1="303.61" x2="69.30" y2="303.61" stroke="#1e1e1e" stroke-width="1.30"/>
<text x="54.54" y="307.21" font-size="9.60" text-anchor="middle" fill="#1a1a1a" stroke="#1a1a1a" stroke-width="0.08" font-family="Liberation Serif" >.</text>
<text transform="translate(50.80,307.21) scale(0.920,1)" font-size="9.60" text-anchor="middle" fill="#1a1a1a" stroke="#1a1a1a" stroke-width="0.08" font-family="Liberation Serif">0</text>
<text transform="translate(60.40,307.21) scale(0.920,1)" font-size="9.60" text-anchor="middle" fill="#1a1a1a" stroke="#1a1a1a" stroke-width="0.08" font-family="Liberation Serif">5</text>
<line x1="66.90" y1="294.83" x2="69.30" y2="294.83" stroke="#1e1e1e" stroke-width="1.30"/>
<line x1="66.90" y1="286.06" x2="69.30" y2="286.06" stroke="#1e1e1e" stroke-width="1.30"/>
<line x1="69.30" y1="500.90" x2="69.30" y2="505.70" stroke="#1e1e1e" stroke-width="1.30"/>
<text transform="translate(69.30,516.70) scale(0.855,1)" font-size="9.90" text-anchor="middle" fill="#1a1a1a" stroke="#1a1a1a" stroke-width="0.08" font-family="Liberation Serif">0</text>
<line x1="80.14" y1="500.90" x2="80.14" y2="503.30" stroke="#1e1e1e" stroke-width="1.30"/>
<line x1="90.99" y1="500.90" x2="90.99" y2="503.30" stroke="#1e1e1e" stroke-width="1.30"/>
<line x1="101.83" y1="500.90" x2="101.83" y2="503.30" stroke="#1e1e1e" stroke-width="1.30"/>
<line x1="112.68" y1="500.90" x2="112.68" y2="503.30" stroke="#1e1e1e" stroke-width="1.30"/>
<line x1="123.52" y1="500.90" x2="123.52" y2="505.70" stroke="#1e1e1e" stroke-width="1.30"/>
<text transform="translate(118.92,516.70) scale(0.855,1)" font-size="9.90" text-anchor="middle" fill="#1a1a1a" stroke="#1a1a1a" stroke-width="0.08" font-family="Liberation Serif">1</text>
<text transform="translate(123.52,516.70) scale(0.855,1)" font-size="9.90" text-anchor="middle" fill="#1a1a1a" stroke="#1a1a1a" stroke-width="0.08" font-family="Liberation Serif">0</text>
<text transform="translate(128.12,516.70) scale(0.855,1)" font-size="9.90" text-anchor="middle" fill="#1a1a1a" stroke="#1a1a1a" stroke-width="0.08" font-family="Liberation Serif">0</text>
<line x1="134.36" y1="500.90" x2="134.36" y2="503.30" stroke="#1e1e1e" stroke-width="1.30"/>
<line x1="145.21" y1="500.90" x2="145.21" y2="503.30" stroke="#1e1e1e" stroke-width="1.30"/>
<line x1="156.05" y1="500.90" x2="156.05" y2="503.30" stroke="#1e1e1e" stroke-width="1.30"/>
<line x1="166.90" y1="500.90" x2="166.90" y2="503.30" stroke="#1e1e1e" stroke-width="1.30"/>
<line x1="177.74" y1="500.90" x2="177.74" y2="505.70" stroke="#1e1e1e" stroke-width="1.30"/>
<text transform="translate(173.14,516.70) scale(0.855,1)" font-size="9.90" text-anchor="middle" fill="#1a1a1a" stroke="#1a1a1a" stroke-width="0.08" font-family="Liberation Serif">2</text>
<text transform="translate(177.74,516.70) scale(0.855,1)" font-size="9.90" text-anchor="middle" fill="#1a1a1a" stroke="#1a1a1a" stroke-width="0.08" font-family="Liberation Serif">0</text>
<text transform="translate(182.34,516.70) scale(0.855,1)" font-size="9.90" text-anchor="middle" fill="#1a1a1a" stroke="#1a1a1a" stroke-width="0.08" font-family="Liberation Serif">0</text>
<line x1="188.58" y1="500.90" x2="188.58" y2="503.30" stroke="#1e1e1e" stroke-width="1.30"/>
<line x1="199.43" y1="500.90" x2="199.43" y2="503.30" stroke="#1e1e1e" stroke-width="1.30"/>
<line x1="210.27" y1="500.90" x2="210.27" y2="503.30" stroke="#1e1e1e" stroke-width="1.30"/>
<line x1="221.12" y1="500.90" x2="221.12" y2="503.30" stroke="#1e1e1e" stroke-width="1.30"/>
<line x1="231.96" y1="500.90" x2="231.96" y2="505.70" stroke="#1e1e1e" stroke-width="1.30"/>
<text transform="translate(227.36,516.70) scale(0.855,1)" font-size="9.90" text-anchor="middle" fill="#1a1a1a" stroke="#1a1a1a" stroke-width="0.08" font-family="Liberation Serif">3</text>
<text transform="translate(231.96,516.70) scale(0.855,1)" font-size="9.90" text-anchor="middle" fill="#1a1a1a" stroke="#1a1a1a" stroke-width="0.08" font-family="Liberation Serif">0</text>
<text transform="translate(236.56,516.70) scale(0.855,1)" font-size="9.90" text-anchor="middle" fill="#1a1a1a" stroke="#1a1a1a" stroke-width="0.08" font-family="Liberation Serif">0</text>
<line x1="242.80" y1="500.90" x2="242.80" y2="503.30" stroke="#1e1e1e" stroke-width="1.30"/>
<line x1="253.65" y1="500.90" x2="253.65" y2="503.30" stroke="#1e1e1e" stroke-width="1.30"/>
<line x1="264.49" y1="500.90" x2="264.49" y2="503.30" stroke="#1e1e1e" stroke-width="1.30"/>
<line x1="275.34" y1="500.90" x2="275.34" y2="503.30" stroke="#1e1e1e" stroke-width="1.30"/>
<line x1="286.18" y1="500.90" x2="286.18" y2="505.70" stroke="#1e1e1e" stroke-width="1.30"/>
<text transform="translate(281.58,516.70) scale(0.855,1)" font-size="9.90" text-anchor="middle" fill="#1a1a1a" stroke="#1a1a1a" stroke-width="0.08" font-family="Liberation Serif">4</text>
<text transform="translate(286.18,516.70) scale(0.855,1)" font-size="9.90" text-anchor="middle" fill="#1a1a1a" stroke="#1a1a1a" stroke-width="0.08" font-family="Liberation Serif">0</text>
<text transform="translate(290.78,516.70) scale(0.855,1)" font-size="9.90" text-anchor="middle" fill="#1a1a1a" stroke="#1a1a1a" stroke-width="0.08" font-family="Liberation Serif">0</text>
<line x1="297.02" y1="500.90" x2="297.02" y2="503.30" stroke="#1e1e1e" stroke-width="1.30"/>
<line x1="307.87" y1="500.90" x2="307.87" y2="503.30" stroke="#1e1e1e" stroke-width="1.30"/>
<line x1="318.71" y1="500.90" x2="318.71" y2="503.30" stroke="#1e1e1e" stroke-width="1.30"/>
<line x1="329.56" y1="500.90" x2="329.56" y2="503.30" stroke="#1e1e1e" stroke-width="1.30"/>
<line x1="340.40" y1="500.90" x2="340.40" y2="505.70" stroke="#1e1e1e" stroke-width="1.30"/>
<text transform="translate(335.80,516.70) scale(0.855,1)" font-size="9.90" text-anchor="middle" fill="#1a1a1a" stroke="#1a1a1a" stroke-width="0.08" font-family="Liberation Serif">5</text>
<text transform="translate(340.40,516.70) scale(0.855,1)" font-size="9.90" text-anchor="middle" fill="#1a1a1a" stroke="#1a1a1a" stroke-width="0.08" font-family="Liberation Serif">0</text>
<text transform="translate(345.00,516.70) scale(0.855,1)" font-size="9.90" text-anchor="middle" fill="#1a1a1a" stroke="#1a1a1a" stroke-width="0.08" font-family="Liberation Serif">0</text>
<rect x="69.30" y="282.50" width="271.10" height="218.40" fill="none" stroke="#1e1e1e" stroke-width="1.30"/>
<g transform="translate(36.60,386.20) rotate(-90)">
<text x="-16.80 -11.20 0.00 5.60 11.20 16.80 22.40" y="0.00" font-size="11.00" text-anchor="middle" fill="#1a1a1a" stroke="#1a1a1a" stroke-width="0.08" font-family="Liberation Serif" >tetial/</text>
<text transform="translate(-28.00,0.00) scale(0.842,1)" font-size="11.00" text-anchor="middle" fill="#1a1a1a" stroke="#1a1a1a" stroke-width="0.08" font-family="Liberation Serif">P</text>
<text transform="translate(-22.40,0.00) scale(0.937,1)" font-size="11.00" text-anchor="middle" fill="#1a1a1a" stroke="#1a1a1a" stroke-width="0.08" font-family="Liberation Serif">o</text>
<text transform="translate(-5.60,0.00) scale(0.937,1)" font-size="11.00" text-anchor="middle" fill="#1a1a1a" stroke="#1a1a1a" stroke-width="0.08" font-family="Liberation Serif">n</text>
<text transform="translate(28.00,0.00) scale(0.649,1)" font-size="11.00" text-anchor="middle" fill="#1a1a1a" stroke="#1a1a1a" stroke-width="0.08" font-family="Liberation Serif">V</text>
</g>
<text x="196.63 213.49 219.11" y="531.60" font-size="12.00" text-anchor="middle" fill="#1a1a1a" stroke="#1a1a1a" stroke-width="0.08" font-family="Liberation Serif" >i/s</text>
<text transform="translate(191.01,531.60) scale(0.705,1)" font-size="12.00" text-anchor="middle" fill="#1a1a1a" stroke="#1a1a1a" stroke-width="0.08" font-family="Liberation Serif">T</text>
<text transform="translate(202.25,531.60) scale(0.554,1)" font-size="12.00" text-anchor="middle" fill="#1a1a1a" stroke="#1a1a1a" stroke-width="0.08" font-family="Liberation Serif">m</text>
<text transform="translate(207.87,531.60) scale(0.971,1)" font-size="12.00" text-anchor="middle" fill="#1a1a1a" stroke="#1a1a1a" stroke-width="0.08" font-family="Liberation Serif">e</text>
<polyline points="69.30,369.40 85.57,369.10 107.25,369.20 123.52,369.60 150.63,369.00 177.74,368.40 210.27,368.80 223.83,369.00 248.23,369.00 264.49,367.30 286.18,367.20" fill="none" stroke="#f04a4a" stroke-width="1.30" stroke-linejoin="round"/>
<polyline points="69.30,369.60 96.41,370.00 118.10,370.00 126.23,369.60 131.65,368.90 137.07,367.90 143.58,367.10 153.34,366.60 177.74,365.80 210.27,364.90 237.38,364.60 259.07,365.30 286.18,365.70" fill="none" stroke="#2e6ee0" stroke-width="1.50" stroke-linejoin="round"/>
<polyline points="69.30,398.70 123.52,398.50 177.74,398.20 231.96,397.80 286.18,397.60" fill="none" stroke="#b07ee0" stroke-width="1.20" stroke-linejoin="round"/>
<polyline points="69.30,400.10 90.99,399.80 123.52,399.30 177.74,398.90 231.96,398.20 286.18,397.90" fill="none" stroke="#40b870" stroke-width="1.20" stroke-linejoin="round"/>
<polyline points="69.30,399.40 123.52,399.00 177.74,398.70 231.96,398.10 286.18,397.80" fill="none" stroke="#d49a1a" stroke-width="1.30" stroke-linejoin="round"/>
<polyline points="69.30,421.40 120.81,421.50 139.79,422.00 177.74,422.40 231.96,422.70 286.18,422.90" fill="none" stroke="#48b878" stroke-width="1.30" stroke-linejoin="round"/>
<polyline points="69.30,421.20 120.81,421.20 145.21,421.80 177.74,422.10 194.01,422.40 231.96,422.60 286.18,422.80" fill="none" stroke="#aaa018" stroke-width="1.30" stroke-linejoin="round"/>
<polyline points="69.30,429.10 123.52,428.90 177.74,428.60 231.96,428.30 286.18,428.20" fill="none" stroke="#a45e5e" stroke-width="1.30" stroke-linejoin="round"/>
<text x="288.80" y="372.90" font-size="16.20" fill="#111" font-family="Liberation Serif" text-anchor="start" textLength="37.5" lengthAdjust="spacingAndGlyphs">pH=6</text>
<text x="288.80" y="403.10" font-size="16.20" fill="#111" font-family="Liberation Serif" text-anchor="start" textLength="37.5" lengthAdjust="spacingAndGlyphs">pH=7</text>
<text x="288.80" y="430.40" font-size="16.20" fill="#111" font-family="Liberation Serif" text-anchor="start" textLength="37.5" lengthAdjust="spacingAndGlyphs">pH=8</text>
<text x="386.40" y="283.90" font-size="28.80" fill="#000" font-family="Liberation Serif" text-anchor="start" >D</text>
<line x1="426.80" y1="511.20" x2="431.30" y2="511.20" stroke="#1e1e1e" stroke-width="1.30"/>
<text transform="translate(421.15,514.80) scale(0.902,1)" font-size="10.00" text-anchor="middle" fill="#1a1a1a" stroke="#1a1a1a" stroke-width="0.08" font-family="Liberation Serif">0</text>
<line x1="429.10" y1="505.21" x2="431.30" y2="505.21" stroke="#1e1e1e" stroke-width="1.30"/>
<line x1="429.10" y1="499.23" x2="431.30" y2="499.23" stroke="#1e1e1e" stroke-width="1.30"/>
<line x1="429.10" y1="493.24" x2="431.30" y2="493.24" stroke="#1e1e1e" stroke-width="1.30"/>
<line x1="429.10" y1="487.26" x2="431.30" y2="487.26" stroke="#1e1e1e" stroke-width="1.30"/>
<line x1="426.80" y1="481.27" x2="431.30" y2="481.27" stroke="#1e1e1e" stroke-width="1.30"/>
<text transform="translate(421.15,484.87) scale(0.902,1)" font-size="10.00" text-anchor="middle" fill="#1a1a1a" stroke="#1a1a1a" stroke-width="0.08" font-family="Liberation Serif">1</text>
<line x1="429.10" y1="475.28" x2="431.30" y2="475.28" stroke="#1e1e1e" stroke-width="1.30"/>
<line x1="429.10" y1="469.30" x2="431.30" y2="469.30" stroke="#1e1e1e" stroke-width="1.30"/>
<line x1="429.10" y1="463.31" x2="431.30" y2="463.31" stroke="#1e1e1e" stroke-width="1.30"/>
<line x1="429.10" y1="457.33" x2="431.30" y2="457.33" stroke="#1e1e1e" stroke-width="1.30"/>
<line x1="426.80" y1="451.34" x2="431.30" y2="451.34" stroke="#1e1e1e" stroke-width="1.30"/>
<text transform="translate(421.15,454.94) scale(0.902,1)" font-size="10.00" text-anchor="middle" fill="#1a1a1a" stroke="#1a1a1a" stroke-width="0.08" font-family="Liberation Serif">2</text>
<line x1="429.10" y1="445.35" x2="431.30" y2="445.35" stroke="#1e1e1e" stroke-width="1.30"/>
<line x1="429.10" y1="439.37" x2="431.30" y2="439.37" stroke="#1e1e1e" stroke-width="1.30"/>
<line x1="429.10" y1="433.38" x2="431.30" y2="433.38" stroke="#1e1e1e" stroke-width="1.30"/>
<line x1="429.10" y1="427.40" x2="431.30" y2="427.40" stroke="#1e1e1e" stroke-width="1.30"/>
<line x1="426.80" y1="421.41" x2="431.30" y2="421.41" stroke="#1e1e1e" stroke-width="1.30"/>
<text transform="translate(421.15,425.01) scale(0.902,1)" font-size="10.00" text-anchor="middle" fill="#1a1a1a" stroke="#1a1a1a" stroke-width="0.08" font-family="Liberation Serif">3</text>
<line x1="429.10" y1="415.42" x2="431.30" y2="415.42" stroke="#1e1e1e" stroke-width="1.30"/>
<line x1="429.10" y1="409.44" x2="431.30" y2="409.44" stroke="#1e1e1e" stroke-width="1.30"/>
<line x1="429.10" y1="403.45" x2="431.30" y2="403.45" stroke="#1e1e1e" stroke-width="1.30"/>
<line x1="429.10" y1="397.47" x2="431.30" y2="397.47" stroke="#1e1e1e" stroke-width="1.30"/>
<line x1="426.80" y1="391.48" x2="431.30" y2="391.48" stroke="#1e1e1e" stroke-width="1.30"/>
<text transform="translate(421.15,395.08) scale(0.902,1)" font-size="10.00" text-anchor="middle" fill="#1a1a1a" stroke="#1a1a1a" stroke-width="0.08" font-family="Liberation Serif">4</text>
<line x1="429.10" y1="385.49" x2="431.30" y2="385.49" stroke="#1e1e1e" stroke-width="1.30"/>
<line x1="429.10" y1="379.51" x2="431.30" y2="379.51" stroke="#1e1e1e" stroke-width="1.30"/>
<line x1="429.10" y1="373.52" x2="431.30" y2="373.52" stroke="#1e1e1e" stroke-width="1.30"/>
<line x1="429.10" y1="367.54" x2="431.30" y2="367.54" stroke="#1e1e1e" stroke-width="1.30"/>
<line x1="426.80" y1="361.55" x2="431.30" y2="361.55" stroke="#1e1e1e" stroke-width="1.30"/>
<text transform="translate(421.15,365.15) scale(0.902,1)" font-size="10.00" text-anchor="middle" fill="#1a1a1a" stroke="#1a1a1a" stroke-width="0.08" font-family="Liberation Serif">5</text>
<line x1="429.10" y1="355.56" x2="431.30" y2="355.56" stroke="#1e1e1e" stroke-width="1.30"/>
<line x1="429.10" y1="349.58" x2="431.30" y2="349.58" stroke="#1e1e1e" stroke-width="1.30"/>
<line x1="429.10" y1="343.59" x2="431.30" y2="343.59" stroke="#1e1e1e" stroke-width="1.30"/>
<line x1="429.10" y1="337.61" x2="431.30" y2="337.61" stroke="#1e1e1e" stroke-width="1.30"/>
<line x1="426.80" y1="331.62" x2="431.30" y2="331.62" stroke="#1e1e1e" stroke-width="1.30"/>
<text transform="translate(421.15,335.22) scale(0.902,1)" font-size="10.00" text-anchor="middle" fill="#1a1a1a" stroke="#1a1a1a" stroke-width="0.08" font-family="Liberation Serif">6</text>
<line x1="429.10" y1="325.63" x2="431.30" y2="325.63" stroke="#1e1e1e" stroke-width="1.30"/>
<line x1="429.10" y1="319.65" x2="431.30" y2="319.65" stroke="#1e1e1e" stroke-width="1.30"/>
<line x1="429.10" y1="313.66" x2="431.30" y2="313.66" stroke="#1e1e1e" stroke-width="1.30"/>
<line x1="429.10" y1="307.68" x2="431.30" y2="307.68" stroke="#1e1e1e" stroke-width="1.30"/>
<line x1="426.80" y1="301.69" x2="431.30" y2="301.69" stroke="#1e1e1e" stroke-width="1.30"/>
<text transform="translate(421.15,305.29) scale(0.902,1)" font-size="10.00" text-anchor="middle" fill="#1a1a1a" stroke="#1a1a1a" stroke-width="0.08" font-family="Liberation Serif">7</text>
<line x1="429.10" y1="295.70" x2="431.30" y2="295.70" stroke="#1e1e1e" stroke-width="1.30"/>
<line x1="429.10" y1="289.72" x2="431.30" y2="289.72" stroke="#1e1e1e" stroke-width="1.30"/>
<line x1="429.10" y1="283.73" x2="431.30" y2="283.73" stroke="#1e1e1e" stroke-width="1.30"/>
<line x1="429.10" y1="277.75" x2="431.30" y2="277.75" stroke="#1e1e1e" stroke-width="1.30"/>
<line x1="426.80" y1="271.76" x2="431.30" y2="271.76" stroke="#1e1e1e" stroke-width="1.30"/>
<text transform="translate(421.15,275.36) scale(0.902,1)" font-size="10.00" text-anchor="middle" fill="#1a1a1a" stroke="#1a1a1a" stroke-width="0.08" font-family="Liberation Serif">8</text>
<line x1="481.00" y1="511.20" x2="481.00" y2="515.70" stroke="#1e1e1e" stroke-width="1.30"/>
<line x1="530.70" y1="511.20" x2="530.70" y2="514.00" stroke="#1e1e1e" stroke-width="1.30"/>
<line x1="431.30" y1="511.20" x2="431.30" y2="514.00" stroke="#1e1e1e" stroke-width="1.30"/>
<text transform="translate(481.00,528.60) scale(0.920,1)" font-size="10.40" text-anchor="middle" fill="#1a1a1a" stroke="#1a1a1a" stroke-width="0.08" font-family="Liberation Serif">6</text>
<rect x="441.30" y="435.78" width="39.70" height="75.42" fill="#f9c796" stroke="#222" stroke-width="1.00"/>
<rect x="481.00" y="481.27" width="39.70" height="29.93" fill="#98d49a" stroke="#222" stroke-width="1.00"/>
<text x="456.72" y="434.08" font-size="12.20" text-anchor="middle" fill="#1a1a1a" stroke="#1a1a1a" stroke-width="0.08" font-family="Liberation Serif" >.</text>
<text transform="translate(451.92,434.08) scale(0.928,1)" font-size="12.20" text-anchor="middle" fill="#1a1a1a" stroke="#1a1a1a" stroke-width="0.08" font-family="Liberation Serif">2</text>
<text transform="translate(464.22,434.08) scale(0.928,1)" font-size="12.20" text-anchor="middle" fill="#1a1a1a" stroke="#1a1a1a" stroke-width="0.08" font-family="Liberation Serif">5</text>
<text transform="translate(470.37,434.08) scale(0.928,1)" font-size="12.20" text-anchor="middle" fill="#1a1a1a" stroke="#1a1a1a" stroke-width="0.08" font-family="Liberation Serif">2</text>
<text x="493.35" y="479.77" font-size="12.20" text-anchor="middle" fill="#1a1a1a" stroke="#1a1a1a" stroke-width="0.08" font-family="Liberation Serif" >.</text>
<text transform="translate(488.55,479.77) scale(0.928,1)" font-size="12.20" text-anchor="middle" fill="#1a1a1a" stroke="#1a1a1a" stroke-width="0.08" font-family="Liberation Serif">0</text>
<text transform="translate(500.85,479.77) scale(0.928,1)" font-size="12.20" text-anchor="middle" fill="#1a1a1a" stroke="#1a1a1a" stroke-width="0.08" font-family="Liberation Serif">7</text>
<text transform="translate(507.00,479.77) scale(0.928,1)" font-size="12.20" text-anchor="middle" fill="#1a1a1a" stroke="#1a1a1a" stroke-width="0.08" font-family="Liberation Serif">1</text>
<text transform="translate(513.15,479.77) scale(0.696,1)" font-size="12.20" text-anchor="middle" fill="#1a1a1a" stroke="#1a1a1a" stroke-width="0.08" font-family="Liberation Serif">%</text>
<line x1="580.40" y1="511.20" x2="580.40" y2="515.70" stroke="#1e1e1e" stroke-width="1.30"/>
<line x1="630.10" y1="511.20" x2="630.10" y2="514.00" stroke="#1e1e1e" stroke-width="1.30"/>
<text transform="translate(580.40,528.60) scale(0.920,1)" font-size="10.40" text-anchor="middle" fill="#1a1a1a" stroke="#1a1a1a" stroke-width="0.08" font-family="Liberation Serif">7</text>
<rect x="540.70" y="484.56" width="39.70" height="26.64" fill="#f9c796" stroke="#222" stroke-width="1.00"/>
<rect x="580.40" y="451.34" width="39.70" height="59.86" fill="#98d49a" stroke="#222" stroke-width="1.00"/>
<text x="556.12" y="482.86" font-size="12.20" text-anchor="middle" fill="#1a1a1a" stroke="#1a1a1a" stroke-width="0.08" font-family="Liberation Serif" >.</text>
<text transform="translate(551.33,482.86) scale(0.928,1)" font-size="12.20" text-anchor="middle" fill="#1a1a1a" stroke="#1a1a1a" stroke-width="0.08" font-family="Liberation Serif">0</text>
<text transform="translate(563.62,482.86) scale(0.928,1)" font-size="12.20" text-anchor="middle" fill="#1a1a1a" stroke="#1a1a1a" stroke-width="0.08" font-family="Liberation Serif">8</text>
<text transform="translate(569.77,482.86) scale(0.928,1)" font-size="12.20" text-anchor="middle" fill="#1a1a1a" stroke="#1a1a1a" stroke-width="0.08" font-family="Liberation Serif">9</text>
<text x="592.75" y="449.84" font-size="12.20" text-anchor="middle" fill="#1a1a1a" stroke="#1a1a1a" stroke-width="0.08" font-family="Liberation Serif" >.</text>
<text transform="translate(587.95,449.84) scale(0.928,1)" font-size="12.20" text-anchor="middle" fill="#1a1a1a" stroke="#1a1a1a" stroke-width="0.08" font-family="Liberation Serif">0</text>
<text transform="translate(600.25,449.84) scale(0.928,1)" font-size="12.20" text-anchor="middle" fill="#1a1a1a" stroke="#1a1a1a" stroke-width="0.08" font-family="Liberation Serif">3</text>
<text transform="translate(606.40,449.84) scale(0.928,1)" font-size="12.20" text-anchor="middle" fill="#1a1a1a" stroke="#1a1a1a" stroke-width="0.08" font-family="Liberation Serif">1</text>
<text transform="translate(612.55,449.84) scale(0.696,1)" font-size="12.20" text-anchor="middle" fill="#1a1a1a" stroke="#1a1a1a" stroke-width="0.08" font-family="Liberation Serif">%</text>
<line x1="679.80" y1="511.20" x2="679.80" y2="515.70" stroke="#1e1e1e" stroke-width="1.30"/>
<line x1="729.50" y1="511.20" x2="729.50" y2="514.00" stroke="#1e1e1e" stroke-width="1.30"/>
<text transform="translate(679.80,528.60) scale(0.920,1)" font-size="10.40" text-anchor="middle" fill="#1a1a1a" stroke="#1a1a1a" stroke-width="0.08" font-family="Liberation Serif">8</text>
<rect x="640.10" y="293.31" width="39.70" height="217.89" fill="#f9c796" stroke="#222" stroke-width="1.00"/>
<rect x="679.80" y="421.41" width="39.70" height="89.79" fill="#98d49a" stroke="#222" stroke-width="1.00"/>
<text x="655.52" y="291.61" font-size="12.20" text-anchor="middle" fill="#1a1a1a" stroke="#1a1a1a" stroke-width="0.08" font-family="Liberation Serif" >.</text>
<text transform="translate(650.73,291.61) scale(0.928,1)" font-size="12.20" text-anchor="middle" fill="#1a1a1a" stroke="#1a1a1a" stroke-width="0.08" font-family="Liberation Serif">7</text>
<text transform="translate(663.02,291.61) scale(0.928,1)" font-size="12.20" text-anchor="middle" fill="#1a1a1a" stroke="#1a1a1a" stroke-width="0.08" font-family="Liberation Serif">2</text>
<text transform="translate(669.17,291.61) scale(0.928,1)" font-size="12.20" text-anchor="middle" fill="#1a1a1a" stroke="#1a1a1a" stroke-width="0.08" font-family="Liberation Serif">8</text>
<text x="692.15" y="419.91" font-size="12.20" text-anchor="middle" fill="#1a1a1a" stroke="#1a1a1a" stroke-width="0.08" font-family="Liberation Serif" >.</text>
<text transform="translate(687.35,419.91) scale(0.928,1)" font-size="12.20" text-anchor="middle" fill="#1a1a1a" stroke="#1a1a1a" stroke-width="0.08" font-family="Liberation Serif">3</text>
<text transform="translate(699.65,419.91) scale(0.928,1)" font-size="12.20" text-anchor="middle" fill="#1a1a1a" stroke="#1a1a1a" stroke-width="0.08" font-family="Liberation Serif">2</text>
<text transform="translate(705.80,419.91) scale(0.928,1)" font-size="12.20" text-anchor="middle" fill="#1a1a1a" stroke="#1a1a1a" stroke-width="0.08" font-family="Liberation Serif">4</text>
<text transform="translate(711.95,419.91) scale(0.696,1)" font-size="12.20" text-anchor="middle" fill="#1a1a1a" stroke="#1a1a1a" stroke-width="0.08" font-family="Liberation Serif">%</text>
<rect x="431.30" y="271.30" width="298.20" height="239.90" fill="none" stroke="#1e1e1e" stroke-width="1.30"/>
<rect x="447.70" y="290.00" width="183.60" height="29.40" fill="#fff" stroke="#3a3a3a" stroke-width="1.00"/>
<rect x="449.30" y="292.00" width="24.00" height="11.60" fill="#f9c796" stroke="#333" stroke-width="1.00"/>
<rect x="449.30" y="305.60" width="24.00" height="11.60" fill="#98d49a" stroke="#333" stroke-width="1.00"/>
<text x="489.73 495.95 514.61 520.83 545.71 558.15 564.37 570.59 576.81" y="302.30" font-size="12.40" text-anchor="middle" fill="#1a1a1a" stroke="#1a1a1a" stroke-width="0.08" font-family="Liberation Serif" >taareiati</text>
<text transform="translate(483.51,302.30) scale(0.830,1)" font-size="12.40" text-anchor="middle" fill="#1a1a1a" stroke="#1a1a1a" stroke-width="0.08" font-family="Liberation Serif">S</text>
<text transform="translate(502.17,302.30) scale(0.923,1)" font-size="12.40" text-anchor="middle" fill="#1a1a1a" stroke="#1a1a1a" stroke-width="0.08" font-family="Liberation Serif">n</text>
<text transform="translate(508.39,302.30) scale(0.923,1)" font-size="12.40" text-anchor="middle" fill="#1a1a1a" stroke="#1a1a1a" stroke-width="0.08" font-family="Liberation Serif">d</text>
<text transform="translate(527.05,302.30) scale(0.923,1)" font-size="12.40" text-anchor="middle" fill="#1a1a1a" stroke="#1a1a1a" stroke-width="0.08" font-family="Liberation Serif">d</text>
<text transform="translate(539.49,302.30) scale(0.923,1)" font-size="12.40" text-anchor="middle" fill="#1a1a1a" stroke="#1a1a1a" stroke-width="0.08" font-family="Liberation Serif">d</text>
<text transform="translate(551.93,302.30) scale(0.923,1)" font-size="12.40" text-anchor="middle" fill="#1a1a1a" stroke="#1a1a1a" stroke-width="0.08" font-family="Liberation Serif">v</text>
<text transform="translate(583.03,302.30) scale(0.923,1)" font-size="12.40" text-anchor="middle" fill="#1a1a1a" stroke="#1a1a1a" stroke-width="0.08" font-family="Liberation Serif">o</text>
<text transform="translate(589.25,302.30) scale(0.923,1)" font-size="12.40" text-anchor="middle" fill="#1a1a1a" stroke="#1a1a1a" stroke-width="0.08" font-family="Liberation Serif">n</text>
<text x="495.95 502.17 508.39 514.61 520.83 527.05 533.27 545.71 564.37 583.03 589.25 595.47 601.69 607.91 614.13" y="315.90" font-size="12.40" text-anchor="middle" fill="#1a1a1a" stroke="#1a1a1a" stroke-width="0.08" font-family="Liberation Serif" >efficietfariati</text>
<text transform="translate(483.51,315.90) scale(0.692,1)" font-size="12.40" text-anchor="middle" fill="#1a1a1a" stroke="#1a1a1a" stroke-width="0.08" font-family="Liberation Serif">C</text>
<text transform="translate(489.73,315.90) scale(0.923,1)" font-size="12.40" text-anchor="middle" fill="#1a1a1a" stroke="#1a1a1a" stroke-width="0.08" font-family="Liberation Serif">o</text>
<text transform="translate(539.49,315.90) scale(0.923,1)" font-size="12.40" text-anchor="middle" fill="#1a1a1a" stroke="#1a1a1a" stroke-width="0.08" font-family="Liberation Serif">n</text>
<text transform="translate(558.15,315.90) scale(0.923,1)" font-size="12.40" text-anchor="middle" fill="#1a1a1a" stroke="#1a1a1a" stroke-width="0.08" font-family="Liberation Serif">o</text>
<text transform="translate(576.81,315.90) scale(0.923,1)" font-size="12.40" text-anchor="middle" fill="#1a1a1a" stroke="#1a1a1a" stroke-width="0.08" font-family="Liberation Serif">v</text>
<text transform="translate(620.35,315.90) scale(0.923,1)" font-size="12.40" text-anchor="middle" fill="#1a1a1a" stroke="#1a1a1a" stroke-width="0.08" font-family="Liberation Serif">o</text>
<text transform="translate(626.57,315.90) scale(0.923,1)" font-size="12.40" text-anchor="middle" fill="#1a1a1a" stroke="#1a1a1a" stroke-width="0.08" font-family="Liberation Serif">n</text>
<text x="582.90 589.10 601.50" y="544.50" font-size="12.00" text-anchor="middle" fill="#1a1a1a" stroke="#1a1a1a" stroke-width="0.08" font-family="Liberation Serif" >ale</text>
<text transform="translate(558.10,544.50) scale(0.951,1)" font-size="12.00" text-anchor="middle" fill="#1a1a1a" stroke="#1a1a1a" stroke-width="0.08" font-family="Liberation Serif">p</text>
<text transform="translate(564.30,544.50) scale(0.658,1)" font-size="12.00" text-anchor="middle" fill="#1a1a1a" stroke="#1a1a1a" stroke-width="0.08" font-family="Liberation Serif">H</text>
<text transform="translate(576.70,544.50) scale(0.658,1)" font-size="12.00" text-anchor="middle" fill="#1a1a1a" stroke="#1a1a1a" stroke-width="0.08" font-family="Liberation Serif">V</text>
<text transform="translate(595.30,544.50) scale(0.951,1)" font-size="12.00" text-anchor="middle" fill="#1a1a1a" stroke="#1a1a1a" stroke-width="0.08" font-family="Liberation Serif">u</text>
</svg></body></html>
